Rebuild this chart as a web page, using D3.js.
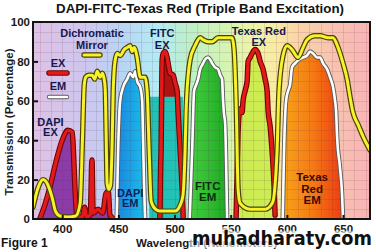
<!DOCTYPE html>
<html><head><meta charset="utf-8">
<script src="https://cdn.jsdelivr.net/npm/d3@7"></script>
<style>
html,body{margin:0;padding:0;background:#fff;}
svg{display:block;font-family:"Liberation Sans",Arial,sans-serif;font-weight:bold;}
</style></head><body>
<svg id="c" width="376" height="252"></svg>
<script>
// ---------- data (wavelength nm, transmission %) ----------
const xTicks = [400, 450, 500, 550, 600, 650];
const yTicks = [0, 20, 40, 60, 80, 100];

const dichroicMirror = [[374,6],[378.6,16],[383,20],[387.5,17],[391,11],[394,4],[398,1.5],[405,1],[412,1.5],[416,8],[418,40],[419.6,68],[421,72],[423.5,73],[426.7,73],[429,71],[431.1,75],[433.8,72],[435.6,74],[437,72],[438.3,66],[439.2,40],[440,18],[441.5,15],[443,17],[444.5,40],[445.4,65],[447,80],[449,84],[451.6,83],[455.2,86],[457.8,87],[460.5,88],[462.3,85],[464,87],[466.7,82],[469.4,72],[473.8,72],[475.6,65],[477.4,35],[479.2,9],[483,5],[487,4],[500.5,4],[505,7],[507.5,12],[509.4,35],[510.3,55],[512,72],[513.9,81],[518.3,88],[522.8,92],[525.4,91],[529.9,90],[533.5,90],[538.8,92],[546.8,92],[551.2,92],[553,86],[554.8,60],[556.6,15],[558.4,8],[567,5],[580.6,5],[587,8],[589,14],[591.3,35],[593,65],[596.6,83],[600.2,88],[604.6,86],[610,82],[614.4,87],[618,91],[625,93],[629.5,93],[636.7,92],[641,92],[645.6,87],[650,79],[653.6,71],[656.2,62],[658.9,54],[663.3,48],[667.8,42],[674,35]];

const dapiEx = [[380,0],[385,8],[389,16],[394,28],[400,40],[405,45],[409,44],[410,34],[411.6,13],[413.3,1],[418,1],[420,6],[421.5,1],[425,2],[426.5,30],[427.5,3],[432,5],[436,3],[439,13],[441,14],[442.5,2],[446,0]];
const fitcEx = [[487,0],[487.4,20],[488,35],[489,81],[489.9,84],[491.6,85],[493.4,82],[494.3,79],[496.1,74],[498.8,73],[500.5,69],[502.3,65],[503.2,54],[505,35],[506.8,15],[507.7,1]];
const texasRedEx = [[554.8,1],[556,30],[556.6,45],[558.4,56],[560.1,54],[561,60],[562.8,65],[564.6,70],[565.5,80],[567.3,82],[569,84],[571.7,86],[574.4,84],[576.2,80],[578.8,76],[580.6,71],[582.4,65],[583.3,55],[585.1,47],[586.8,35],[588.6,17],[589.5,2]];
const fitcExBand = [[477.5,62],[507.5,62]];

const dapiEm = [[448.5,0],[449.8,35],[451.6,60],[454.3,67],[457.8,71],[460.5,74],[463.2,72],[465,75],[466.7,70],[469.4,67],[471.2,60],[472,40],[473,15],[473.8,0]];
const fitcEm = [[513.5,0],[515.7,35],[517.4,65],[519.2,68],[521,71],[522.8,76],[525.4,79],[527.2,81],[529.9,82],[531.7,81],[533.5,79],[536.1,77],[538.8,76],[540.6,73],[542.3,71],[543.2,60],[544.1,53],[545,49],[545.9,30],[546.8,0]];
const texasRedEm = [[596.3,0],[597.5,35],[599.3,60],[601.1,65],[602.8,68],[604.6,77],[607.3,79],[610.9,81],[614.4,82],[618,83],[620.6,85],[623.3,84],[626.9,82],[629.5,82],[632.2,79],[635.8,76],[638.4,72],[641.1,67],[642.9,60],[643.8,55],[644.7,42],[647.3,26],[649.1,13],[650,0]];

// ---------- drawing ----------
const svg = d3.select("#c");
const x = d3.scaleLinear().domain([374, 674]).range([33, 370]);
const y = d3.scaleLinear().domain([0, 100]).range([219, 22]);
const defs = svg.append("defs");

function hGrad(id, stops, x1, x2) {
  const g = defs.append("linearGradient").attr("id", id)
    .attr("gradientUnits", "userSpaceOnUse")
    .attr("x1", x1).attr("x2", x2).attr("y1", 0).attr("y2", 0);
  stops.forEach(s => g.append("stop").attr("offset", s[0]).attr("stop-color", s[1]));
}
const specStops = [[374,"#dec2e4"],[420,"#cec6ee"],[455,"#b8d6f4"],[485,"#b2ecf4"],[515,"#bef0c6"],[545,"#d4f4b2"],[570,"#eef4a8"],[590,"#faeaa4"],[610,"#fad4a8"],[640,"#f8c4b0"],[674,"#f8b4b6"]];
hGrad("spec", specStops.map(s => [(s[0]-374)/300, s[1]]), x(374), x(674));
hGrad("gBlue", [[0,"#1a86e0"],[1,"#1ac0ea"]], x(449), x(474));
hGrad("gGreen", [[0,"#44d040"],[1,"#1fa824"]], x(513), x(547));
hGrad("gOrange", [[0,"#f8a41a"],[0.5,"#f47a14"],[1,"#ee3a12"]], x(596), x(650));

defs.append("clipPath").attr("id", "plotClip").append("rect")
  .attr("x", x(374)).attr("y", y(100)).attr("width", x(674)-x(374)).attr("height", y(0)-y(100));

const plot = svg.append("g").attr("clip-path", "url(#plotClip)");
plot.append("rect").attr("x", x(374)).attr("y", y(100))
  .attr("width", x(674)-x(374)).attr("height", y(0)-y(100)).attr("fill", "url(#spec)");

const area = d3.area().x(d => x(d[0])).y0(y(0)).y1(d => y(d[1])).curve(d3.curveMonotoneX);
const areaLin = d3.area().x(d => x(d[0])).y0(y(0)).y1(d => y(d[1]));
const line = d3.line().x(d => x(d[0])).y(d => y(d[1])).curve(d3.curveMonotoneX);

// fills
plot.append("path").attr("d", area(dapiEx)).attr("fill", "#8c3ca8");
plot.append("path").attr("d", area(fitcEx)).attr("fill", "#b01212");
plot.append("path").attr("d", areaLin(fitcExBand)).attr("fill", "#22c2b6");
plot.append("path").attr("d", area(texasRedEx)).attr("fill", "#ccec52");
plot.append("path").attr("d", area(dapiEm)).attr("fill", "url(#gBlue)");
plot.append("path").attr("d", area(fitcEm)).attr("fill", "url(#gGreen)");
plot.append("path").attr("d", area(texasRedEm)).attr("fill", "url(#gOrange)");

// grid
const grid = plot.append("g").attr("stroke", "rgba(90,40,80,0.13)").attr("stroke-width", 1);
d3.range(380, 674, 10).forEach(v => grid.append("line")
  .attr("x1", Math.round(x(v))+0.5).attr("x2", Math.round(x(v))+0.5).attr("y1", y(100)).attr("y2", y(0)));
d3.range(5, 100, 5).forEach(v => grid.append("line")
  .attr("y1", Math.round(y(v))+0.5).attr("y2", Math.round(y(v))+0.5).attr("x1", x(374)).attr("x2", x(674)));

function stroked(g, d, outer, inner, wo, wi) {
  g.append("path").attr("d", d).attr("fill", "none").attr("stroke", outer)
    .attr("stroke-width", wo).attr("stroke-linejoin", "round").attr("stroke-linecap", "round");
  g.append("path").attr("d", d).attr("fill", "none").attr("stroke", inner)
    .attr("stroke-width", wi).attr("stroke-linejoin", "round").attr("stroke-linecap", "round");
}
const RED = ["#6a0404", "#e21a1a", 5.5, 3.4];
const WHT = ["#5a5a5a", "#ffffff", 4.4, 2.6];
const YEL = ["#4a4204", "#f6f22c", 5.4, 3.0];

[dapiEx, fitcEx, texasRedEx].forEach(s => stroked(plot, line(s), ...RED));
[dapiEm, fitcEm, texasRedEm].forEach(s => stroked(plot, line(s), ...WHT));
stroked(plot, line(dichroicMirror), ...YEL);

// frame
svg.append("rect").attr("x", x(374)).attr("y", y(100))
  .attr("width", x(674)-x(374)).attr("height", y(0)-y(100))
  .attr("fill", "none").attr("stroke", "#141414").attr("stroke-width", 2);

// axes
const yAxis = svg.append("g").attr("transform", `translate(${x(374)},0)`)
  .call(d3.axisLeft(y).tickValues(yTicks).tickSize(-5).tickPadding(3));
const xAxis = svg.append("g").attr("transform", `translate(0,${y(0)})`)
  .call(d3.axisBottom(x).tickValues(xTicks).tickSize(-4).tickPadding(6));
[yAxis, xAxis].forEach(a => {
  a.select(".domain").remove();
  a.selectAll(".tick line").attr("stroke", "#141414").attr("stroke-width", 2);
  a.selectAll("text").attr("fill", "#1a1a1a").attr("font-size", "11.5px")
    .attr("font-family", '"Liberation Sans",Arial,sans-serif').attr("font-weight", "bold");
});
yAxis.selectAll(".tick").filter(d => d === 0 || d === 100).select("line").remove();

// labels
function txt(str, px, py, size, color, anchor) {
  return svg.append("text").attr("x", px).attr("y", py).attr("font-size", size)
    .attr("fill", color).attr("text-anchor", anchor || "middle").text(str);
}
txt("DAPI-FITC-Texas Red (Triple Band Excitation)", 200, 12.5, "13.3px", "#141414");
svg.append("text").attr("transform", "translate(12.5,122) rotate(-90)")
  .attr("text-anchor", "middle").attr("font-size", "11.5px").attr("fill", "#1a1a1a")
  .text("Transmission (Percentage)");

const NAVY = "#151850";
txt("Dichromatic", 92, 37, "11px", NAVY);
txt("Mirror", 92, 49, "11px", NAVY);
txt("EX", 58, 67, "11px", NAVY);
txt("EM", 58, 90, "11px", NAVY);
txt("DAPI", x(389.5), 126, "11px", NAVY);
txt("EX", x(389.5), 136, "11px", NAVY);
txt("FITC", x(489), 37, "11px", NAVY);
txt("EX", x(489), 49, "11px", NAVY);
txt("Texas Red", x(575), 35, "11px", NAVY);
txt("EX", x(575), 46, "11px", NAVY);
txt("DAPI", x(460.5), 197, "11px", "#10205a");
txt("EM", x(460.5), 207, "11px", "#10205a");
txt("FITC", x(529.5), 190, "11.5px", "#0c2e0e");
txt("EM", x(529.5), 201, "11.5px", "#0c2e0e");
txt("Texas", x(622.5), 181, "11.5px", "#3a0a02");
txt("Red", x(622.5), 193, "11.5px", "#3a0a02");
txt("EM", x(622.5), 204, "11.5px", "#3a0a02");

// legend samples
const leg = svg.append("g");
stroked(leg, `M84,55H100`, ...YEL);
stroked(leg, `M49,73H67`, ...RED);
stroked(leg, `M49,97H67`, ...WHT);

txt("Figure 1", 1, 247, "12px", "#141414", "start");
txt("Wavelength (Nanometers)", 136, 247, "11.5px", "#1a1a1a", "start");

// watermark
svg.append("text").attr("x", 192).attr("y", 245)
  .attr("font-family", '"DejaVu Sans",Verdana,sans-serif').attr("font-weight", "bold")
  .attr("font-size", "19px").attr("textLength", 180).attr("lengthAdjust", "spacingAndGlyphs")
  .attr("fill", "#111").attr("stroke", "rgba(255,255,255,0.6)").attr("stroke-width", 7)
  .attr("stroke-linejoin", "round").attr("paint-order", "stroke")
  .text("muhadharaty.com");
</script>
</body></html>
